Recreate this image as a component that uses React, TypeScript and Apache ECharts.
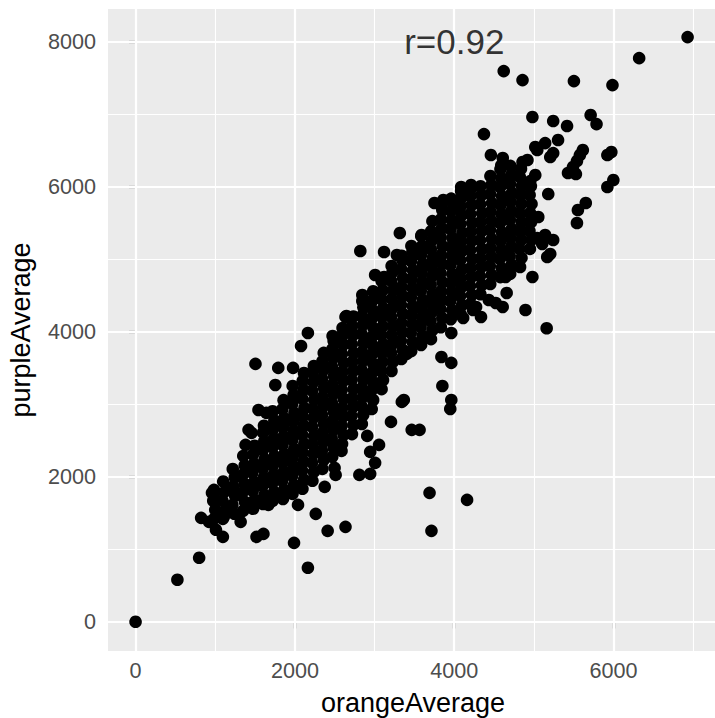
import React, { useEffect, useRef } from "react";
import * as echarts from "echarts";

// axis ticks and grid lines
const xTicks = [0, 2000, 4000, 6000];
const yTicks = [0, 2000, 4000, 6000, 8000];
const xMinor = [1000, 3000, 5000, 7000];
const yMinor = [1000, 3000, 5000, 7000];
const xLimits = [-346, 7273];
const yLimits = [-403, 8455];

const xTitle = "orangeAverage";
const yTitle = "purpleAverage";
const annotation = { x: 4000, y: 8000, label: "r=0.92" };

// [orangeAverage, purpleAverage]
const lowerCloud: number[][] = [
  [985, 1420], [1000, 1545], [975, 1670], [995, 1790],
  [1095, 1420], [1130, 1545], [1090, 1672], [1125, 1800], [1100, 1935],
  [1240, 1490], [1215, 1612], [1250, 1738], [1225, 1866], [1245, 1992], [1220, 2108],
  [1350, 1530], [1372, 1655], [1340, 1782], [1366, 1904], [1345, 2031], [1370, 2158], [1352, 2288],
  [1475, 1560], [1495, 1683], [1470, 1806], [1490, 1930], [1466, 2056], [1488, 2182], [1472, 2306], [1494, 2428],
  [1600, 1625], [1618, 1748], [1592, 1872], [1612, 1996], [1598, 2118], [1620, 2242], [1595, 2366], [1615, 2488], [1600, 2610], [1612, 2705],
  [1720, 1668], [1740, 1792], [1716, 1914], [1738, 2036], [1722, 2160], [1744, 2284], [1718, 2408], [1736, 2532], [1724, 2656], [1742, 2778], [1720, 2904],
  [1850, 1695], [1866, 1822], [1840, 1944], [1862, 2070], [1848, 2192], [1868, 2314], [1844, 2440], [1860, 2562], [1850, 2686], [1866, 2810], [1842, 2932], [1858, 3058],
  [1970, 1765], [1990, 1888], [1966, 2014], [1986, 2140], [1972, 2262], [1992, 2386], [1968, 2510], [1988, 2634], [1975, 2758], [1994, 2882], [1966, 3006], [1984, 3130], [1972, 3254],
  [2095, 1835], [2115, 1960], [2090, 2086], [2110, 2210], [2098, 2332], [2118, 2456], [2092, 2580], [2112, 2704], [2100, 2830], [2120, 2952], [2094, 3076], [2110, 3200], [2098, 3322], [2114, 3432],
];

const midCloud: number[][] = [
  [2220, 1945], [2238, 2068], [2214, 2196], [2234, 2320], [2222, 2444], [2240, 2566], [2216, 2690], [2236, 2816], [2224, 2938], [2242, 3062], [2218, 3186], [2234, 3308], [2222, 3432], [2238, 3530],
  [2345, 2110], [2362, 2236], [2338, 2360], [2358, 2482], [2346, 2606], [2364, 2730], [2340, 2854], [2360, 2976], [2348, 3100], [2366, 3226], [2342, 3350], [2358, 3472], [2346, 3596], [2362, 3710],
  [2468, 2275], [2486, 2400], [2462, 2526], [2482, 2650], [2470, 2772], [2488, 2896], [2464, 3020], [2484, 3146], [2472, 3270], [2490, 3392], [2466, 3516], [2482, 3640], [2470, 3762], [2486, 3876],
  [2592, 2455], [2610, 2580], [2586, 2706], [2606, 2830], [2594, 2952], [2612, 3076], [2588, 3200], [2608, 3326], [2596, 3450], [2614, 3572], [2590, 3696], [2606, 3820], [2594, 3942], [2610, 4015],
  [2716, 2590], [2734, 2716], [2710, 2840], [2730, 2966], [2718, 3086], [2736, 3210], [2712, 3336], [2732, 3460], [2720, 3586], [2738, 3706], [2714, 3830], [2730, 3956], [2718, 4080], [2734, 4212],
  [2840, 2730], [2858, 2856], [2834, 2980], [2854, 3102], [2842, 3226], [2860, 3350], [2836, 3476], [2856, 3600], [2844, 3722], [2862, 3846], [2838, 3970], [2854, 4096], [2842, 4220], [2860, 4340], [2846, 4426],
  [2964, 2935], [2982, 3060], [2958, 3186], [2978, 3310], [2966, 3432], [2984, 3556], [2960, 3680], [2980, 3806], [2968, 3930], [2986, 4052], [2962, 4176], [2978, 4300], [2966, 4426], [2982, 4560],
  [3088, 3210], [3106, 3336], [3082, 3460], [3102, 3586], [3090, 3706], [3108, 3830], [3084, 3956], [3104, 4080], [3092, 4206], [3110, 4326], [3086, 4450], [3102, 4576], [3090, 4700],
  [3212, 3460], [3230, 3586], [3206, 3710], [3226, 3836], [3214, 3956], [3232, 4080], [3208, 4206], [3228, 4330], [3216, 4456], [3234, 4576], [3210, 4700], [3226, 4826], [3214, 4910],
  [3336, 3625], [3354, 3750], [3330, 3876], [3350, 4000], [3338, 4122], [3356, 4246], [3332, 4370], [3352, 4496], [3340, 4620], [3358, 4742], [3334, 4866], [3350, 4990], [3340, 5050],
  [3460, 3735], [3478, 3860], [3454, 3986], [3474, 4110], [3462, 4232], [3480, 4356], [3456, 4480], [3476, 4606], [3464, 4730], [3482, 4852], [3458, 4976], [3474, 5100], [3462, 5186],
];

const upperCloud: number[][] = [
  [3584, 3820], [3602, 3946], [3578, 4070], [3598, 4196], [3586, 4316], [3604, 4440], [3580, 4566], [3600, 4690], [3588, 4816], [3606, 4936], [3582, 5060], [3598, 5186], [3586, 5320],
  [3708, 3900], [3726, 4026], [3702, 4150], [3722, 4276], [3710, 4396], [3728, 4520], [3704, 4646], [3724, 4770], [3712, 4896], [3730, 5016], [3706, 5140], [3722, 5266], [3710, 5390], [3726, 5528],
  [3832, 4065], [3850, 4190], [3826, 4316], [3846, 4440], [3834, 4562], [3852, 4686], [3828, 4810], [3848, 4936], [3836, 5060], [3854, 5182], [3830, 5306], [3846, 5430], [3834, 5556], [3850, 5680], [3840, 5740],
  [3956, 4175], [3974, 4300], [3950, 4426], [3970, 4550], [3958, 4672], [3976, 4796], [3952, 4920], [3972, 5046], [3960, 5170], [3978, 5292], [3954, 5416], [3970, 5540], [3958, 5666], [3974, 5790], [3962, 5838],
  [4080, 4245], [4098, 4370], [4074, 4496], [4094, 4620], [4082, 4742], [4100, 4866], [4076, 4990], [4096, 5116], [4084, 5240], [4102, 5362], [4078, 5486], [4094, 5610], [4082, 5736], [4098, 5860], [4086, 5944],
  [4204, 4385], [4222, 4510], [4198, 4636], [4218, 4760], [4206, 4882], [4224, 5006], [4200, 5130], [4220, 5256], [4208, 5380], [4226, 5502], [4202, 5626], [4218, 5750], [4206, 5876], [4222, 5990],
  [4328, 4520], [4346, 4646], [4322, 4770], [4342, 4896], [4330, 5016], [4348, 5140], [4324, 5266], [4344, 5390], [4332, 5516], [4350, 5636], [4326, 5760], [4342, 5886], [4330, 6010],
  [4452, 4660], [4470, 4786], [4446, 4910], [4466, 5036], [4454, 5156], [4472, 5280], [4448, 5406], [4468, 5530], [4456, 5656], [4474, 5776], [4450, 5900], [4466, 6026], [4454, 6150],
  [4578, 4755], [4596, 4880], [4572, 5006], [4592, 5130], [4580, 5252], [4598, 5376], [4574, 5500], [4594, 5626], [4582, 5750], [4600, 5872], [4576, 5996], [4592, 6120], [4580, 6246], [4590, 6296],
  [4702, 4800], [4720, 4926], [4696, 5050], [4716, 5176], [4704, 5296], [4722, 5420], [4698, 5546], [4718, 5670], [4706, 5796], [4724, 5916], [4700, 6040], [4716, 6166], [4704, 6290],
  [4826, 4895], [4844, 5020], [4820, 5146], [4840, 5270], [4828, 5392], [4846, 5516], [4822, 5640], [4842, 5766], [4830, 5890], [4848, 6012], [4824, 6136], [4838, 6250],
  [4950, 5145], [4968, 5270], [4944, 5392], [4964, 5516], [4952, 5640], [4970, 5766], [4946, 5890], [4962, 6012], [4954, 6080],
];

const scatteredPoints: number[][] = [
  [0, 0], [525, 580], [798, 883], [823, 1434], [922, 1379], [1009, 1269], [1096, 1172], [1108, 1448],
  [959, 1779], [984, 1820], [1319, 1379], [1518, 1172], [1605, 1213], [1667, 1613], [1989, 1089],
  [2163, 745], [2262, 1489], [2411, 1255], [2635, 1310], [2039, 1613], [2498, 2124], [2573, 2372],
  [2374, 1862], [2585, 2358], [2511, 2027], [2809, 2027], [2945, 2041], [3007, 2193], [3056, 2441],
  [2945, 2344], [2908, 2565], [3206, 2758], [3466, 2648], [3565, 2648], [3367, 3061], [3342, 3034],
  [3851, 3254], [3963, 3061], [3950, 2937], [3690, 1779], [3714, 1255], [4161, 1682], [5160, 4050],
  [3839, 3654], [3963, 3572], [3404, 3696],
  [1505, 3558], [1791, 3503], [1977, 3503], [1754, 3268], [1543, 2923], [1642, 2882], [1418, 2648],
  [1456, 2606], [1381, 2441], [2077, 3806], [2163, 3985], [2473, 3944], [2610, 4027], [2647, 4220],
  [2821, 5116], [3119, 5102], [3317, 5364], [3590, 5337], [3280, 5061], [3007, 4785], [3119, 4758],
  [2846, 4509], [2635, 4206], [2598, 4054], [3752, 5778], [3863, 5819], [4087, 5999], [4211, 6026],
  [4373, 6729], [4460, 6440], [4609, 6399], [4857, 6343], [4919, 6371], [5017, 6164], [4981, 6964],
  [5242, 6909], [5416, 6840], [5712, 6992], [5786, 6867], [5017, 6550], [5141, 6605], [5042, 6509],
  [5303, 6647], [5242, 6467], [5205, 6412], [5614, 6509], [5577, 6440], [5540, 6357], [5490, 6274],
  [5428, 6192], [5527, 6178], [5972, 6481], [5922, 6440], [5997, 6095], [5922, 5999], [5651, 5778],
  [5552, 5681], [5540, 5502], [5180, 5902], [5055, 5585], [5042, 5295], [5141, 5337], [5242, 5268],
  [5104, 5213], [5205, 5075], [5167, 5033], [4981, 4758], [4894, 4302], [4658, 4537], [4608, 4344],
  [4645, 4758], [4521, 4399], [4434, 4440], [4336, 4206], [4274, 4344], [4112, 4192], [3963, 3985],
  [4236, 4302], [4621, 7598], [4857, 7474], [5502, 7460], [5986, 7405], [6321, 7777], [6929, 8067],
];

const FONT = '"Liberation Sans", Arial, Helvetica, sans-serif';

export default function App() {
  const ref = useRef<HTMLDivElement>(null);
  useEffect(() => {
    if (!ref.current) return;
    const chart = echarts.init(ref.current, undefined, { renderer: "svg" });
    const points = [...lowerCloud, ...midCloud, ...upperCloud, ...scatteredPoints];
    const gridLines = [
      ...xMinor.map((v) => ({ xAxis: v, lineStyle: { width: 1.1 } })),
      ...yMinor.map((v) => ({ yAxis: v, lineStyle: { width: 1.1 } })),
      ...xTicks.map((v) => ({ xAxis: v, lineStyle: { width: 2.2 } })),
      ...yTicks.map((v) => ({ yAxis: v, lineStyle: { width: 2.2 } })),
    ];
    const plain = (v: number) => String(v);
    chart.setOption({
      animation: false,
      backgroundColor: "#ffffff",
      grid: {
        left: 108,
        top: 9,
        width: 614,
        height: 642,
        show: true,
        backgroundColor: "#EBEBEB",
        borderWidth: 0,
      },
      xAxis: {
        type: "value",
        min: xLimits[0],
        max: xLimits[1],
        splitLine: { show: false },
        axisLine: { show: false },
        axisTick: {
          show: true,
          customValues: xTicks,
          length: 6.6,
          lineStyle: { color: "#333333", width: 2.2 },
        },
        axisLabel: {
          customValues: xTicks,
          formatter: plain,
          color: "#4D4D4D",
          fontSize: 21.6,
          fontFamily: FONT,
          margin: 8,
        },
      },
      yAxis: {
        type: "value",
        min: yLimits[0],
        max: yLimits[1],
        splitLine: { show: false },
        axisLine: { show: false },
        axisTick: {
          show: true,
          customValues: yTicks,
          length: 6.6,
          lineStyle: { color: "#333333", width: 2.2 },
        },
        axisLabel: {
          customValues: yTicks,
          formatter: plain,
          color: "#4D4D4D",
          fontSize: 21.6,
          fontFamily: FONT,
          margin: 12,
        },
      },
      graphic: [
        {
          type: "text",
          x: 413,
          y: 703,
          style: {
            text: xTitle,
            fill: "#000000",
            font: `27px ${FONT}`,
            textAlign: "center",
            textVerticalAlign: "middle",
          },
        },
        {
          type: "text",
          x: 21,
          y: 330,
          rotation: Math.PI / 2,
          style: {
            text: yTitle,
            fill: "#000000",
            font: `27px ${FONT}`,
            textAlign: "center",
            textVerticalAlign: "middle",
          },
        },
      ],
      series: [
        {
          type: "scatter",
          data: [],
          z: 1,
          silent: true,
          markLine: {
            z: 1,
            silent: true,
            symbol: ["none", "none"],
            label: { show: false },
            emphasis: { disabled: true },
            lineStyle: { color: "#FFFFFF", type: "solid", opacity: 1 },
            data: gridLines,
          },
        },
        {
          type: "scatter",
          data: points,
          z: 3,
          symbol: "circle",
          symbolSize: 12.6,
          itemStyle: { color: "#000000", opacity: 1 },
          silent: true,
        },
        {
          type: "scatter",
          data: [[annotation.x, annotation.y]],
          z: 4,
          symbolSize: 0,
          silent: true,
          label: {
            show: true,
            position: "inside",
            formatter: annotation.label,
            color: "#000000",
            fontSize: 35,
            fontFamily: FONT,
          },
        },
      ],
    });
    return () => chart.dispose();
  }, []);
  return (
    <div
      ref={ref}
      style={{ position: "fixed", left: 0, top: 0, width: 715, height: 718, background: "#fff" }}
    />
  );
}
